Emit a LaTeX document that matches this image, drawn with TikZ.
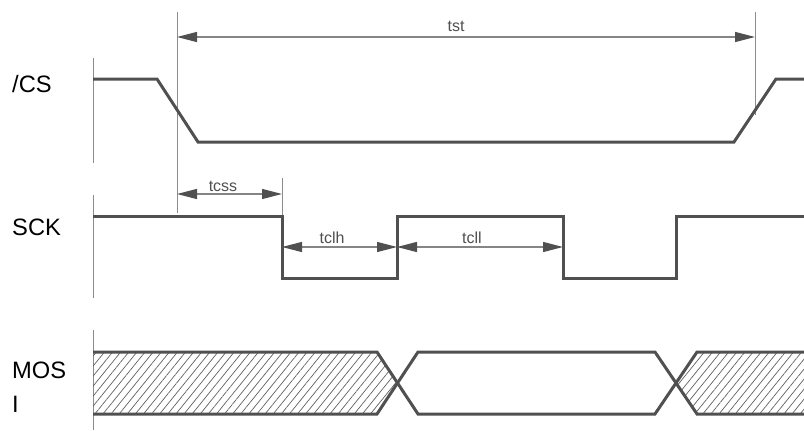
\documentclass[tikz,border=0pt]{standalone}
\usepackage{fontspec}
\setmainfont{Liberation Sans}
\usetikzlibrary{arrows.meta,patterns.meta}
\definecolor{sig}{HTML}{505050}
\definecolor{ext}{HTML}{8C8C8C}
\definecolor{dimln}{HTML}{858585}
\tikzset{
  signal/.style={draw=sig,line width=3pt,line join=miter},
  extline/.style={draw=ext,line width=1pt},
  dimline/.style={draw=dimln,line width=1.3pt,
    {Triangle[length=20pt,width=10pt,color=sig]}-{Triangle[length=20pt,width=10pt,color=sig]}},
  siglabel/.style={anchor=base west,inner sep=0pt,font=\fontsize{23.7}{26}\selectfont,text=black},
  dimlabel/.style={anchor=base,inner sep=0pt,font=\fontsize{16}{18}\selectfont,text=sig},
  hatch/.style={pattern={Lines[angle=51,distance=6.3pt,line width=0.7pt]},pattern color=sig!90}
}
\begin{document}
\begin{tikzpicture}[x=1pt,y=-1pt]
\useasboundingbox[fill=white] (0,0) rectangle (804,431);
% labels
\node[siglabel] (lcs) at (12,92) {/CS};
\node[siglabel] (lsck) at (12,235) {SCK};
\node[siglabel] (lmos) at (12,378) {MOS};
\node[siglabel] (li) at (12,412) {I};
% left extension lines
\coordinate (cs0t) at (93,58); \coordinate (cs0b) at (93,163);
\coordinate (sck0t) at (93,195); \coordinate (sck0b) at (93,298);
\coordinate (mo0t) at (93,330); \coordinate (mo0b) at (93,430);
\draw[extline] (cs0t) -- (cs0b);
\draw[extline] (sck0t) -- (sck0b);
\draw[extline] (mo0t) -- (mo0b);
% timing extension lines
\coordinate (tst1t) at (177,12); \coordinate (tst1b) at (177,213);
\coordinate (tst2t) at (755,12); \coordinate (tst2b) at (755,115);
\coordinate (tcss2t) at (282,178); \coordinate (tcss2b) at (282,216);
\draw[extline] (tst1t) -- (tst1b);
\draw[extline] (tst2t) -- (tst2b);
\draw[extline] (tcss2t) -- (tcss2b);
% MOSI hatched regions
\coordinate (hl1) at (93,352); \coordinate (hl2) at (377,352);
\coordinate (xa) at (397.5,383);
\coordinate (hl3) at (377,414); \coordinate (hl4) at (93,414);
\coordinate (hr1) at (804,352); \coordinate (hr2) at (697,352);
\coordinate (xb) at (676,383);
\coordinate (hr3) at (697,414); \coordinate (hr4) at (804,414);
\fill[hatch] (hl1) -- (hl2) -- (xa) -- (hl3) -- (hl4) -- cycle;
\fill[hatch] (hr1) -- (hr2) -- (xb) -- (hr3) -- (hr4) -- cycle;
% /CS signal
\draw[signal] (93,79) -- (157,79) -- (198,142) -- (734,142) -- (776,79) -- (804,79);
% SCK signal
\draw[signal] (93,216) -- (282,216) -- (282,278) -- (397,278) -- (397,216)
  -- (563,216) -- (563,278) -- (676,278) -- (676,216) -- (804,216);
% MOSI signal
\draw[signal] (93,352) -- (377,352) -- (418,414) -- (655,414) -- (697,352) -- (804,352);
\draw[signal] (93,414) -- (377,414) -- (418,352) -- (655,352) -- (697,414) -- (804,414);
% dimension lines
\coordinate (tstA) at (177,37); \coordinate (tstB) at (755,37);
\coordinate (tcssA) at (177,194); \coordinate (tcssB) at (282,194);
\coordinate (tclhA) at (282,247); \coordinate (tclhB) at (397,247);
\coordinate (tcllA) at (397,247); \coordinate (tcllB) at (563,247);
\draw[dimline] (tstA) -- (tstB);
\draw[dimline] (tcssA) -- (tcssB);
\draw[dimline] (tclhA) -- (tclhB);
\draw[dimline] (tcllA) -- (tcllB);
\node[dimlabel] (ltst) at (456,31) {tst};
\node[dimlabel] (ltcss) at (223,191) {tcss};
\node[dimlabel] (ltclh) at (332,243) {tclh};
\node[dimlabel] (ltcll) at (472,243) {tcll};
\end{tikzpicture}
\end{document}
